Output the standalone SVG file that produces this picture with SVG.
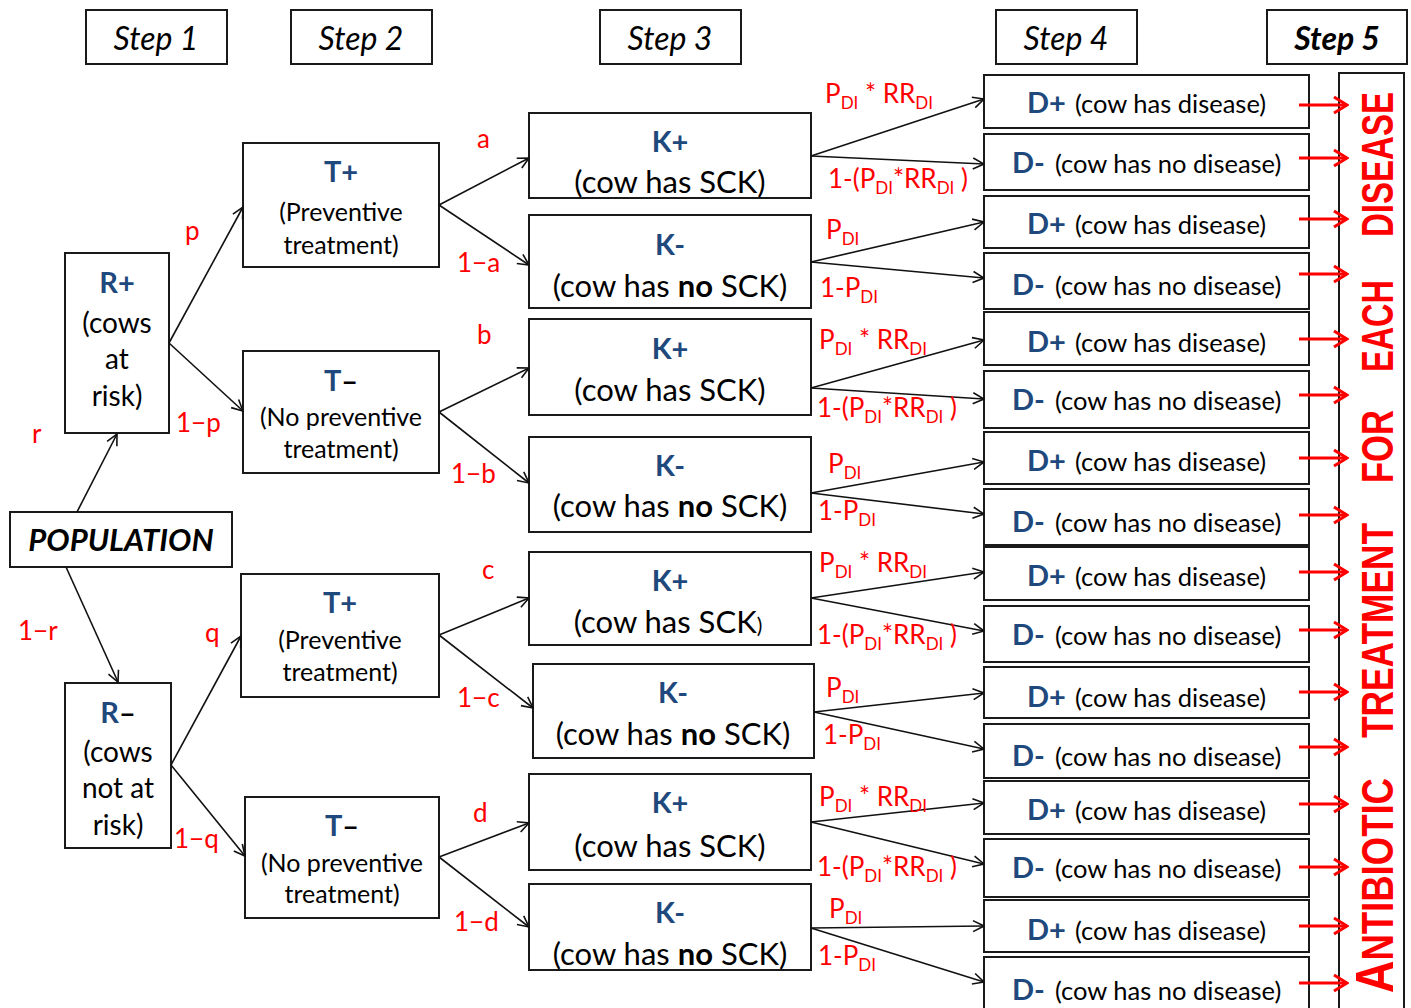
<svg xmlns="http://www.w3.org/2000/svg" width="1411" height="1008" viewBox="0 0 1411 1008">
<defs>
<marker id="ah" markerUnits="userSpaceOnUse" markerWidth="14" markerHeight="14" viewBox="0 0 14 14" refX="13" refY="7" orient="auto"><path d="M2,1.5 L13,7 L2,12.5" fill="none" stroke="#111" stroke-width="1.6"/></marker>
<marker id="rh" markerUnits="userSpaceOnUse" markerWidth="18" markerHeight="20" viewBox="0 0 18 20" refX="16" refY="10" orient="auto"><path d="M3,2 L16,10 L3,18" fill="none" stroke="#f00" stroke-width="3"/></marker>
<style>
.box{fill:#fff;stroke:#1a1a1a;stroke-width:2}
text{font-family:Lato,"Open Sans","Liberation Sans",sans-serif;fill:#000}
.step{font-size:32px;font-style:italic;text-anchor:middle}
.c{text-anchor:middle}
.lbl{font-size:29px;font-weight:bold;fill:#1f497d}
.rb{font-size:28px}
.tb{font-size:25px}
.kb{font-size:31px}
.db{font-size:25.5px}
.red{fill:#f00;font-size:26px}
.sub{font-size:17px;fill:#f00}
.con{stroke:#111;stroke-width:1.6;fill:none;marker-end:url(#ah)}
.rarr{stroke:#f00;stroke-width:3;fill:none;marker-end:url(#rh)}
.vt{font-family:"Liberation Sans",Arial,sans-serif;font-weight:bold;font-size:44px;fill:#f00}
</style>
</defs>
<rect width="1411" height="1008" fill="#fff"/>

<g id="steps">
<g id="step1"><rect class="box" x="86" y="10" width="141" height="54"/><text class="step" x="156" y="50">Step 1</text></g>
<g id="step2"><rect class="box" x="291" y="10" width="141" height="54"/><text class="step" x="361" y="50">Step 2</text></g>
<g id="step3"><rect class="box" x="600" y="10" width="141" height="54"/><text class="step" x="670" y="50">Step 3</text></g>
<g id="step4"><rect class="box" x="996" y="10" width="141" height="54"/><text class="step" x="1066" y="50">Step 4</text></g>
<g id="step5"><rect class="box" x="1267" y="10" width="140" height="54"/><text class="step" x="1337" y="50" font-weight="bold">Step 5</text></g>
</g>

<g id="population"><rect class="box" x="10" y="512" width="222" height="55"/><text class="c" x="121" y="551" font-size="31" font-weight="bold" font-style="italic">POPULATION</text></g>

<g id="R-plus"><rect class="box" x="65" y="253" width="104" height="180"/>
<text class="c lbl" x="117" y="293">R+</text>
<text class="c rb" x="117" y="333">(cows</text>
<text class="c rb" x="117" y="369">at</text>
<text class="c rb" x="117" y="406">risk)</text></g>

<g id="R-minus"><rect class="box" x="65" y="683" width="106" height="165"/>
<text class="c lbl" x="118" y="723">R<tspan fill="#000">–</tspan></text>
<text class="c rb" x="118" y="762">(cows</text>
<text class="c rb" x="118" y="798">not at</text>
<text class="c rb" x="118" y="835">risk)</text></g>

<g id="T1"><rect class="box" x="243" y="143" width="196" height="124"/>
<text class="c lbl" x="341" y="182">T+</text>
<text class="c tb" x="341" y="221">(Preventive</text>
<text class="c tb" x="341" y="254">treatment)</text></g>

<g id="T2"><rect class="box" x="243" y="351" width="196" height="122"/>
<text class="c lbl" x="341" y="391">T<tspan fill="#000">–</tspan></text>
<text class="c tb" x="341" y="426">(No preventive</text>
<text class="c tb" x="341" y="458">treatment)</text></g>

<g id="T3"><rect class="box" x="241" y="574" width="198" height="123"/>
<text class="c lbl" x="340" y="613">T+</text>
<text class="c tb" x="340" y="649">(Preventive</text>
<text class="c tb" x="340" y="681">treatment)</text></g>

<g id="T4"><rect class="box" x="245" y="797" width="194" height="121"/>
<text class="c lbl" x="342" y="836">T<tspan fill="#000">–</tspan></text>
<text class="c tb" x="342" y="872">(No preventive</text>
<text class="c tb" x="342" y="903">treatment)</text></g>

<g id="K1"><rect class="box" x="529" y="113" width="282" height="85"/>
<text class="c lbl" x="670" y="152">K+</text><text class="c kb" x="670" y="193">(cow has SCK)</text></g>
<g id="K2"><rect class="box" x="529" y="215" width="282" height="93"/>
<text class="c lbl" x="670" y="255">K-</text><text class="c kb" x="670" y="297">(cow has <tspan font-weight="bold">no</tspan> SCK)</text></g>
<g id="K3"><rect class="box" x="529" y="319" width="282" height="96"/>
<text class="c lbl" x="670" y="359">K+</text><text class="c kb" x="670" y="401">(cow has SCK)</text></g>
<g id="K4"><rect class="box" x="529" y="437" width="282" height="95"/>
<text class="c lbl" x="670" y="476">K-</text><text class="c kb" x="670" y="517">(cow has <tspan font-weight="bold">no</tspan> SCK)</text></g>
<g id="K5"><rect class="box" x="529" y="552" width="282" height="93"/>
<text class="c lbl" x="670" y="591">K+</text><text class="c kb" x="668" y="633">(cow has SCK<tspan font-size="21">)</tspan></text></g>
<g id="K6"><rect class="box" x="533" y="664" width="281" height="94"/>
<text class="c lbl" x="673" y="703">K-</text><text class="c kb" x="673" y="745">(cow has <tspan font-weight="bold">no</tspan> SCK)</text></g>
<g id="K7"><rect class="box" x="529" y="774" width="282" height="96"/>
<text class="c lbl" x="670" y="813">K+</text><text class="c kb" x="670" y="857">(cow has SCK)</text></g>
<g id="K8"><rect class="box" x="529" y="884" width="282" height="86"/>
<text class="c lbl" x="670" y="923">K-</text><text class="c kb" x="670" y="965">(cow has <tspan font-weight="bold">no</tspan> SCK)</text></g>

<g id="D1"><rect class="box" x="984" y="75" width="325" height="53"/><text class="lbl" x="1027" y="113">D+</text><text class="db" x="1075" y="113">(cow has disease)</text></g>
<g id="D2"><rect class="box" x="984" y="134" width="325" height="56"/><text class="lbl" x="1012" y="173">D-</text><text class="db" x="1055" y="173">(cow has no disease)</text></g>
<g id="D3"><rect class="box" x="984" y="196" width="325" height="52"/><text class="lbl" x="1027" y="234">D+</text><text class="db" x="1075" y="234">(cow has disease)</text></g>
<g id="D4"><rect class="box" x="984" y="253" width="325" height="56"/><text class="lbl" x="1012" y="295">D-</text><text class="db" x="1055" y="295">(cow has no disease)</text></g>
<g id="D5"><rect class="box" x="984" y="312" width="325" height="53"/><text class="lbl" x="1027" y="352">D+</text><text class="db" x="1075" y="352">(cow has disease)</text></g>
<g id="D6"><rect class="box" x="984" y="371" width="325" height="57"/><text class="lbl" x="1012" y="410">D-</text><text class="db" x="1055" y="410">(cow has no disease)</text></g>
<g id="D7"><rect class="box" x="984" y="432" width="325" height="52"/><text class="lbl" x="1027" y="471">D+</text><text class="db" x="1075" y="471">(cow has disease)</text></g>
<g id="D8"><rect class="box" x="984" y="489" width="325" height="56"/><text class="lbl" x="1012" y="532">D-</text><text class="db" x="1055" y="532">(cow has no disease)</text></g>
<g id="D9"><rect class="box" x="984" y="547" width="325" height="53"/><text class="lbl" x="1027" y="586">D+</text><text class="db" x="1075" y="586">(cow has disease)</text></g>
<g id="D10"><rect class="box" x="984" y="606" width="325" height="56"/><text class="lbl" x="1012" y="645">D-</text><text class="db" x="1055" y="645">(cow has no disease)</text></g>
<g id="D11"><rect class="box" x="984" y="667" width="325" height="51"/><text class="lbl" x="1027" y="707">D+</text><text class="db" x="1075" y="707">(cow has disease)</text></g>
<g id="D12"><rect class="box" x="984" y="724" width="325" height="54"/><text class="lbl" x="1012" y="766">D-</text><text class="db" x="1055" y="766">(cow has no disease)</text></g>
<g id="D13"><rect class="box" x="984" y="781" width="325" height="53"/><text class="lbl" x="1027" y="820">D+</text><text class="db" x="1075" y="820">(cow has disease)</text></g>
<g id="D14"><rect class="box" x="984" y="839" width="325" height="58"/><text class="lbl" x="1012" y="878">D-</text><text class="db" x="1055" y="878">(cow has no disease)</text></g>
<g id="D15"><rect class="box" x="984" y="900" width="325" height="52"/><text class="lbl" x="1027" y="940">D+</text><text class="db" x="1075" y="940">(cow has disease)</text></g>
<g id="D16"><rect class="box" x="984" y="957" width="325" height="60"/><text class="lbl" x="1012" y="1000">D-</text><text class="db" x="1055" y="1000">(cow has no disease)</text></g>

<g id="step5-box"><rect class="box" x="1339" y="73" width="65" height="945"/>
<g transform="translate(1393,1008) rotate(-90)">
<text class="vt" x="15" y="0" textLength="215" lengthAdjust="spacingAndGlyphs"><tspan font-size="54">A</tspan>NTIBIOTIC</text>
<text class="vt" x="270" y="0" textLength="215" lengthAdjust="spacingAndGlyphs">TREATMENT</text>
<text class="vt" x="525" y="0" textLength="73" lengthAdjust="spacingAndGlyphs">FOR</text>
<text class="vt" x="636" y="0" textLength="92" lengthAdjust="spacingAndGlyphs">EACH</text>
<text class="vt" x="771" y="0" textLength="145" lengthAdjust="spacingAndGlyphs">DISEASE</text>
</g></g>

<g id="connectors">
<line class="con" x1="77" y1="512" x2="117" y2="434"/>
<line class="con" x1="66" y1="567" x2="118" y2="682"/>
<line class="con" x1="169" y1="343" x2="243" y2="207"/>
<line class="con" x1="169" y1="343" x2="243" y2="411"/>
<line class="con" x1="171" y1="765" x2="241" y2="636"/>
<line class="con" x1="171" y1="765" x2="245" y2="856"/>
<line class="con" x1="439" y1="205" x2="529" y2="158"/>
<line class="con" x1="439" y1="205" x2="529" y2="265"/>
<line class="con" x1="439" y1="412" x2="529" y2="368"/>
<line class="con" x1="439" y1="412" x2="529" y2="483"/>
<line class="con" x1="439" y1="635" x2="529" y2="598"/>
<line class="con" x1="439" y1="635" x2="533" y2="708"/>
<line class="con" x1="439" y1="857" x2="529" y2="823"/>
<line class="con" x1="439" y1="857" x2="529" y2="927"/>
<line class="con" x1="811" y1="156" x2="984" y2="99"/>
<line class="con" x1="811" y1="156" x2="984" y2="164"/>
<line class="con" x1="811" y1="262" x2="984" y2="222"/>
<line class="con" x1="811" y1="262" x2="984" y2="278"/>
<line class="con" x1="811" y1="388" x2="984" y2="340"/>
<line class="con" x1="811" y1="388" x2="984" y2="399"/>
<line class="con" x1="811" y1="493" x2="984" y2="462"/>
<line class="con" x1="811" y1="493" x2="984" y2="514"/>
<line class="con" x1="811" y1="598" x2="984" y2="572"/>
<line class="con" x1="811" y1="598" x2="984" y2="631"/>
<line class="con" x1="814" y1="712" x2="984" y2="693"/>
<line class="con" x1="814" y1="712" x2="984" y2="749"/>
<line class="con" x1="811" y1="822" x2="984" y2="803"/>
<line class="con" x1="811" y1="822" x2="984" y2="864"/>
<line class="con" x1="811" y1="928" x2="984" y2="926"/>
<line class="con" x1="811" y1="928" x2="984" y2="982"/>
<line class="rarr" x1="1299" y1="105" x2="1347" y2="105"/>
<line class="rarr" x1="1299" y1="158" x2="1347" y2="158"/>
<line class="rarr" x1="1299" y1="219" x2="1347" y2="219"/>
<line class="rarr" x1="1299" y1="274" x2="1347" y2="274"/>
<line class="rarr" x1="1299" y1="339" x2="1347" y2="339"/>
<line class="rarr" x1="1299" y1="395" x2="1347" y2="395"/>
<line class="rarr" x1="1299" y1="458" x2="1347" y2="458"/>
<line class="rarr" x1="1299" y1="515" x2="1347" y2="515"/>
<line class="rarr" x1="1299" y1="572" x2="1347" y2="572"/>
<line class="rarr" x1="1299" y1="630" x2="1347" y2="630"/>
<line class="rarr" x1="1299" y1="692" x2="1347" y2="692"/>
<line class="rarr" x1="1299" y1="747" x2="1347" y2="747"/>
<line class="rarr" x1="1299" y1="804" x2="1347" y2="804"/>
<line class="rarr" x1="1299" y1="867" x2="1347" y2="867"/>
<line class="rarr" x1="1299" y1="926" x2="1347" y2="926"/>
<line class="rarr" x1="1299" y1="983" x2="1347" y2="983"/>
</g>

<g id="edge-labels">
<text class="red" x="32" y="443">r</text>
<text class="red" x="18" y="640">1−r</text>
<text class="red" x="185" y="240">p</text>
<text class="red" x="176" y="432">1−p</text>
<text class="red" x="205" y="642">q</text>
<text class="red" x="174" y="848">1−q</text>
<text class="red" x="477" y="148">a</text>
<text class="red" x="457" y="272">1−a</text>
<text class="red" x="477" y="344">b</text>
<text class="red" x="451" y="483">1−b</text>
<text class="red" x="482" y="579">c</text>
<text class="red" x="457" y="707">1−c</text>
<text class="red" x="473" y="822">d</text>
<text class="red" x="454" y="931">1−d</text>

<text class="red" x="825" y="103">P<tspan class="sub" dy="6">DI</tspan><tspan dy="-6"> * RR</tspan><tspan class="sub" dy="6">DI</tspan></text>
<text class="red" x="828" y="188">1-(P<tspan class="sub" dy="6">DI</tspan><tspan dy="-6">*RR</tspan><tspan class="sub" dy="6">DI</tspan><tspan dy="-6"> )</tspan></text>
<text class="red" x="826" y="239">P<tspan class="sub" dy="6">DI</tspan></text>
<text class="red" x="820" y="297">1-P<tspan class="sub" dy="6">DI</tspan></text>

<text class="red" x="819" y="349">P<tspan class="sub" dy="6">DI</tspan><tspan dy="-6"> * RR</tspan><tspan class="sub" dy="6">DI</tspan></text>
<text class="red" x="817" y="417">1-(P<tspan class="sub" dy="6">DI</tspan><tspan dy="-6">*RR</tspan><tspan class="sub" dy="6">DI</tspan><tspan dy="-6"> )</tspan></text>
<text class="red" x="828" y="473">P<tspan class="sub" dy="6">DI</tspan></text>
<text class="red" x="818" y="520">1-P<tspan class="sub" dy="6">DI</tspan></text>

<text class="red" x="819" y="572">P<tspan class="sub" dy="6">DI</tspan><tspan dy="-6"> * RR</tspan><tspan class="sub" dy="6">DI</tspan></text>
<text class="red" x="817" y="644">1-(P<tspan class="sub" dy="6">DI</tspan><tspan dy="-6">*RR</tspan><tspan class="sub" dy="6">DI</tspan><tspan dy="-6"> )</tspan></text>
<text class="red" x="826" y="697">P<tspan class="sub" dy="6">DI</tspan></text>
<text class="red" x="823" y="744">1-P<tspan class="sub" dy="6">DI</tspan></text>

<text class="red" x="819" y="806">P<tspan class="sub" dy="6">DI</tspan><tspan dy="-6"> * RR</tspan><tspan class="sub" dy="6">DI</tspan></text>
<text class="red" x="817" y="876">1-(P<tspan class="sub" dy="6">DI</tspan><tspan dy="-6">*RR</tspan><tspan class="sub" dy="6">DI</tspan><tspan dy="-6"> )</tspan></text>
<text class="red" x="829" y="918">P<tspan class="sub" dy="6">DI</tspan></text>
<text class="red" x="818" y="965">1-P<tspan class="sub" dy="6">DI</tspan></text>
</g>
</svg>
